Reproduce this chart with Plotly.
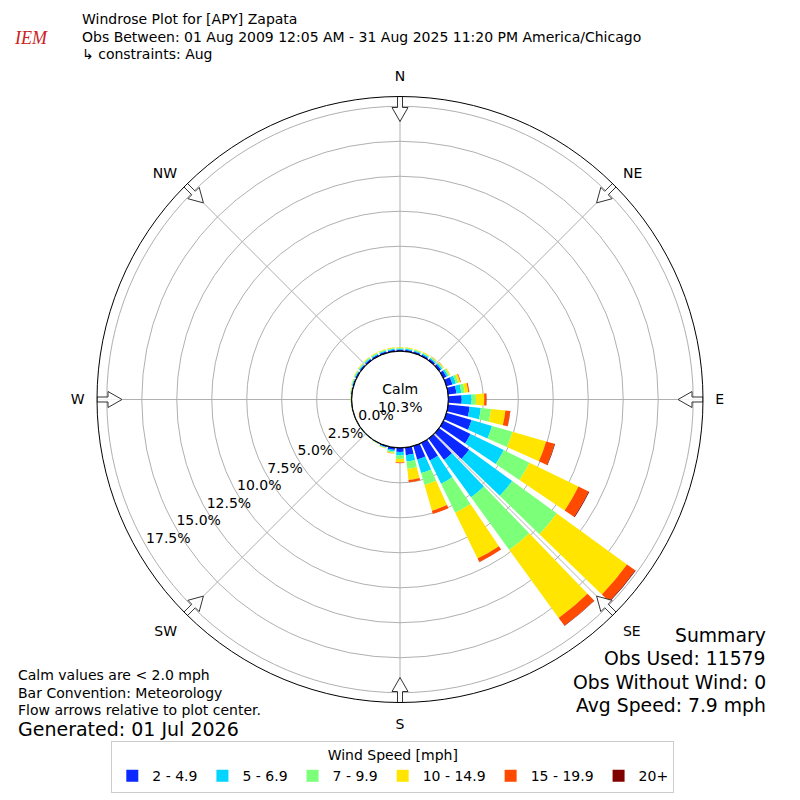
import math
import plotly.graph_objects as go

# ---------------- data ----------------
directions = list(range(0, 360, 10))  # 36 direction bins (deg, meteorological)

speed_bins = ["2 - 4.9", "5 - 6.9", "7 - 9.9", "10 - 14.9", "15 - 19.9", "20+"]
bin_colors = ["#0a28ff", "#00d5ff", "#7cff79", "#ffe500", "#ff4a00", "#800000"]

# percent of observations per direction for each speed bin
#            0     10    20    30    40    50    60    70    80    90   100   110   120   130   140   150   160   170   180   190   200   210   220   230   240   250   260   270   280   290   300   310   320   330   340   350
spd_2_5   = [0.12, 0.12, 0.12, 0.13, 0.15, 0.18, 0.24, 0.45, 0.60, 0.96, 1.55, 1.87, 2.16, 2.66, 1.90, 1.40, 1.00, 0.55, 0.30, 0.18, 0.09, 0.05, 0.03, 0.02, 0.02, 0.03, 0.03, 0.04, 0.06, 0.08, 0.10, 0.11, 0.12, 0.12, 0.12, 0.12]
spd_5_7   = [0.07, 0.07, 0.07, 0.08, 0.08, 0.10, 0.13, 0.25, 0.35, 0.71, 0.81, 1.52, 2.64, 3.80, 3.29, 1.84, 1.02, 0.45, 0.25, 0.10, 0.05, 0.02, 0.01, 0.01, 0.01, 0.01, 0.02, 0.02, 0.03, 0.05, 0.06, 0.07, 0.07, 0.07, 0.07, 0.07]
spd_7_10  = [0.06, 0.06, 0.06, 0.06, 0.07, 0.08, 0.10, 0.18, 0.25, 0.31, 0.73, 1.52, 2.04, 3.94, 4.65, 2.31, 0.88, 0.53, 0.25, 0.09, 0.03, 0.02, 0.01, 0.01, 0.01, 0.01, 0.02, 0.02, 0.03, 0.04, 0.05, 0.05, 0.06, 0.06, 0.06, 0.06]
spd_10_15 = [0.05, 0.05, 0.05, 0.05, 0.05, 0.05, 0.07, 0.15, 0.25, 0.59, 1.03, 2.50, 3.90, 6.20, 6.00, 3.64, 1.91, 0.80, 0.25, 0.07, 0.03, 0.01, 0.01, 0.01, 0.01, 0.01, 0.01, 0.02, 0.03, 0.03, 0.04, 0.05, 0.05, 0.05, 0.05, 0.05]
spd_15_20 = [0.00, 0.00, 0.00, 0.01, 0.01, 0.01, 0.01, 0.05, 0.08, 0.15, 0.34, 0.63, 0.80, 0.72, 0.68, 0.28, 0.25, 0.16, 0.05, 0.01, 0.00, 0.00, 0.00, 0.00, 0.00, 0.00, 0.00, 0.00, 0.00, 0.00, 0.00, 0.00, 0.00, 0.00, 0.00, 0.00]
spd_20p   = [0.00, 0.00, 0.00, 0.00, 0.00, 0.00, 0.00, 0.00, 0.00, 0.02, 0.02, 0.04, 0.06, 0.05, 0.03, 0.01, 0.00, 0.00, 0.00, 0.00, 0.00, 0.00, 0.00, 0.00, 0.00, 0.00, 0.00, 0.00, 0.00, 0.00, 0.00, 0.00, 0.00, 0.00, 0.00, 0.00]
series = [spd_2_5, spd_5_7, spd_7_10, spd_10_15, spd_15_20, spd_20p]

radial_ticks = [0.0, 2.5, 5.0, 7.5, 10.0, 12.5, 15.0, 17.5]
radial_label_dir = 240   # compass direction along which the % labels sit
compass_deg = [0, 45, 90, 135, 180, 225, 270, 315]
compass_lbl = ["N", "NE", "E", "SE", "S", "SW", "W", "NW"]

calm_pct = 10.3
title_lines = ["Windrose Plot for [APY] Zapata",
               "Obs Between: 01 Aug 2009 12:05 AM - 31 Aug 2025 11:20 PM America/Chicago",
               "\u21b3 constraints: Aug"]
left_notes = ["Calm values are < 2.0 mph", "Bar Convention: Meteorology",
              "Flow arrows relative to plot center."]
generated = "Generated: 01 Jul 2026"
summary = ["Summary", "Obs Used: 11579", "Obs Without Wind: 0", "Avg Speed: 7.9 mph"]

# ---------------- layout geometry ----------------
W = H = 800
CX, CY = 400, 399.5     # polar centre (px)
R_PX = 303              # outer radius (px)
HOLE_PX = 48.3
RMAX = 18.2
FONT = "DejaVu Sans"

fig = go.Figure()

for name, vals, col in zip(speed_bins, series, bin_colors):
    fig.add_trace(go.Barpolar(
        r=vals, theta=directions, width=8, name=name,
        marker=dict(color=col, line=dict(width=0)),
        hoverinfo="skip",
    ))

# black circle at the hole edge
ring_theta = list(range(0, 361, 3))
fig.add_trace(go.Scatterpolar(r=[0] * len(ring_theta), theta=ring_theta, mode="lines",
                              line=dict(color="black", width=1.2), showlegend=False,
                              hoverinfo="skip"))

# hollow flow arrows pointing toward the centre
def px_to_r(rp):
    return (rp - HOLE_PX) / (R_PX - HOLE_PX) * RMAX

arrow_shape = [(278, 0), (292, 8), (292, 2.5), (305, 2.5), (305, -2.5),
               (292, -2.5), (292, -8), (278, 0)]
for d in compass_deg:
    rs, ts = [], []
    for u, v in arrow_shape:
        rs.append(min(px_to_r(math.hypot(u, v)), RMAX))
        ts.append(d + math.degrees(math.atan2(v, u)))
    fig.add_trace(go.Scatterpolar(r=rs, theta=ts, mode="lines", fill="toself",
                                  fillcolor="rgba(255,255,255,0.85)",
                                  line=dict(color="#333333", width=1),
                                  showlegend=False, hoverinfo="skip"))

# radial (percent) labels, matplotlib style: left/bottom anchored at the ring crossing
fig.add_trace(go.Scatterpolar(r=radial_ticks, theta=[radial_label_dir] * len(radial_ticks),
                              mode="text", text=[f"{t:.1f}%" for t in radial_ticks],
                              textposition="top right", cliponaxis=False,
                              textfont=dict(size=14, family=FONT, color="black"),
                              showlegend=False, hoverinfo="skip"))

def xp(px):
    return px / W

def yp(py):
    return 1 - py / H

fig.update_layout(
    width=W, height=H,
    margin=dict(l=0, r=0, t=0, b=0),
    paper_bgcolor="white",
    font=dict(family=FONT, size=14, color="black"),
    polar=dict(
        domain=dict(x=[xp(CX - R_PX), xp(CX + R_PX)], y=[yp(CY + R_PX), yp(CY - R_PX)]),
        hole=HOLE_PX / R_PX,
        bgcolor="white",
        barmode="stack",
        radialaxis=dict(range=[0, RMAX], tickvals=radial_ticks,
                        showticklabels=False, showline=False, ticks="",
                        gridcolor="#b0b0b0", gridwidth=1),
        angularaxis=dict(rotation=90, direction="clockwise",
                         tickvals=compass_deg, ticktext=compass_lbl,
                         showline=True, linecolor="black", linewidth=1,
                         gridcolor="#b0b0b0", gridwidth=1,
                         ticks="outside", ticklen=9, tickcolor="rgba(0,0,0,0)",
                         tickfont=dict(size=14, family=FONT, color="black")),
    ),
    legend=dict(orientation="h", x=0.491, xanchor="center", y=yp(741), yanchor="top",
                bordercolor="#cccccc", borderwidth=1, bgcolor="white",
                itemwidth=30,
                title=dict(text="Wind Speed [mph]", side="top center",
                           font=dict(size=14, family=FONT)),
                font=dict(size=14, family=FONT), traceorder="normal"),
)

ann = []
for i, t in enumerate(title_lines):
    ann.append(dict(text=t, x=xp(80), y=yp(19 + 17.5 * i), xanchor="left", yanchor="middle",
                    font=dict(size=14)))
ann.append(dict(text="<i>IEM</i>", x=xp(31), y=yp(38), xanchor="center", yanchor="middle",
                font=dict(size=18, family="Liberation Serif", color="#cc2222")))
for i, t in enumerate(left_notes):
    ann.append(dict(text=t, x=xp(16), y=yp(675 + 17.5 * i), xanchor="left", yanchor="middle",
                    font=dict(size=14)))
ann.append(dict(text=generated, x=xp(16), y=yp(729), xanchor="left", yanchor="middle",
                font=dict(size=19)))
for i, t in enumerate(summary):
    ann.append(dict(text=t, x=xp(768), y=yp(635 + 23.5 * i), xanchor="right", yanchor="middle",
                    font=dict(size=18.8)))
ann.append(dict(text=f"Calm<br>{calm_pct:.1f}%", x=xp(CX), y=yp(CY - 1), xanchor="center",
                yanchor="middle", font=dict(size=14)))
for a in ann:
    a.update(xref="paper", yref="paper", showarrow=False)
fig.update_layout(annotations=ann)

fig.write_html("out.html", config={"displayModeBar": False},
               post_script="document.body.style.margin='0px';")
